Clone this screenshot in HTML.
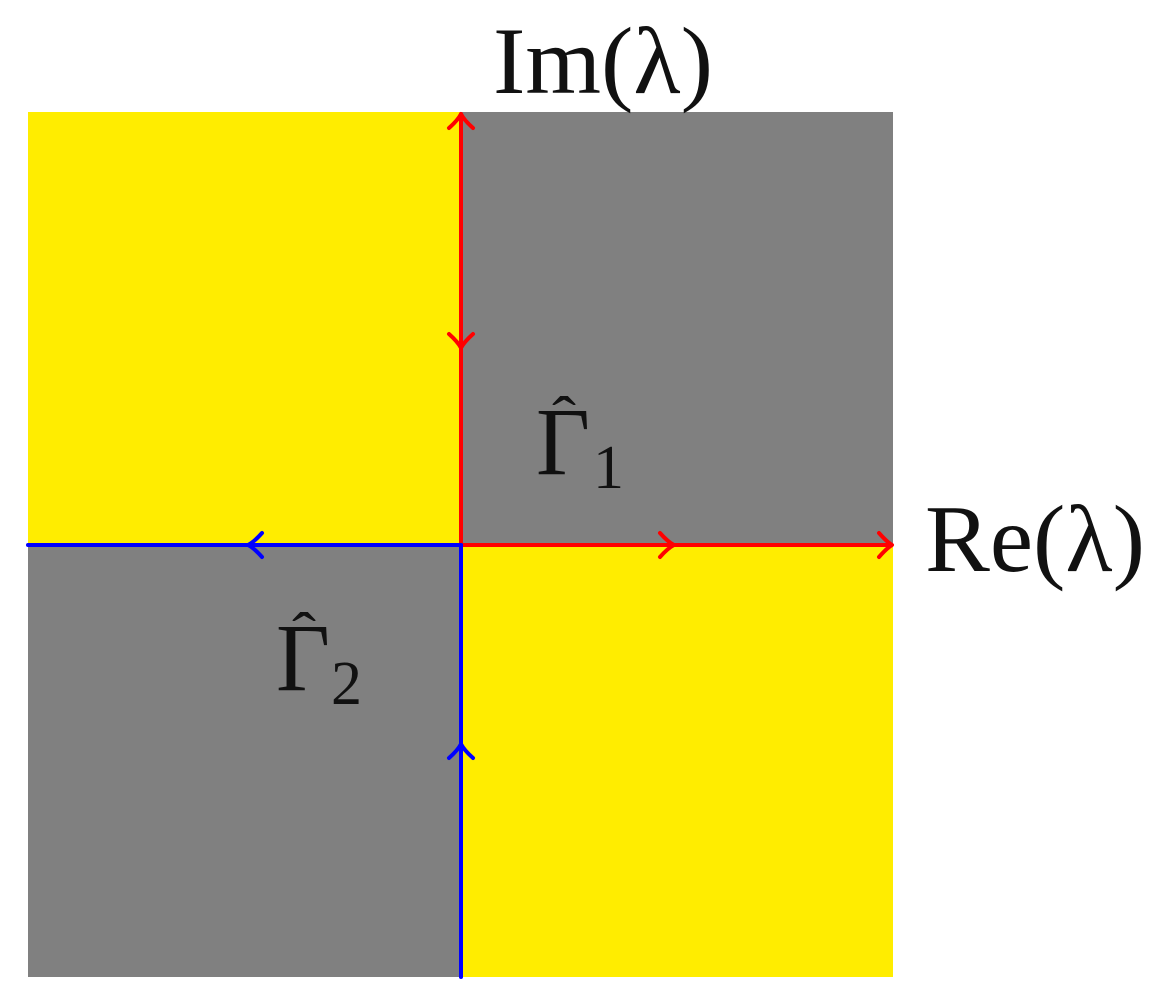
<!DOCTYPE html>
<html><head><meta charset="utf-8"><style>
html,body{margin:0;padding:0;background:#fff;}
svg{display:block}
text{font-family:"Liberation Serif","DejaVu Serif",serif;fill:#111;}
</style></head><body>
<svg width="1170" height="1008" viewBox="0 0 1170 1008">
<rect x="28" y="112" width="433" height="433" fill="#ffed00"/>
<rect x="461" y="112" width="432" height="433" fill="#808080"/>
<rect x="28" y="545" width="433" height="432" fill="#808080"/>
<rect x="461" y="545" width="432" height="432" fill="#ffed00"/>
<g fill="none" stroke-width="4" stroke-linecap="round" stroke-linejoin="round">
<line x1="461" y1="545" x2="461" y2="114" stroke="#ff0000"/>
<line x1="461" y1="545" x2="891" y2="545" stroke="#ff0000"/>
<line x1="28" y1="545" x2="461" y2="545" stroke="#0000ff"/>
<line x1="461" y1="545" x2="461" y2="977" stroke="#0000ff"/>
<path d="M449,128 Q458,120 461,114 Q464,120 473,128" stroke="#ff0000"/>
<path d="M449,334 Q458,342 461,348 Q464,342 473,334" stroke="#ff0000"/>
<path d="M660,533 Q668,542 674,545 Q668,548 660,557" stroke="#ff0000"/>
<path d="M879,533 Q887,542 892,545 Q887,548 879,557" stroke="#ff0000"/>
<path d="M262,533 Q254,542 248,545 Q254,548 262,557" stroke="#0000ff"/>
<path d="M449,758 Q458,750 461,744 Q464,750 473,758" stroke="#0000ff"/>
</g>
<text x="493" y="93" font-size="95" textLength="220" lengthAdjust="spacingAndGlyphs">Im(λ)</text>
<text x="925" y="571" font-size="95" textLength="220" lengthAdjust="spacingAndGlyphs">Re(λ)</text>
<text x="536" y="474" font-size="96" textLength="54" lengthAdjust="spacingAndGlyphs">Γ</text>
<text x="552" y="438" font-size="60" textLength="24" lengthAdjust="spacingAndGlyphs">ˆ</text>
<text x="593" y="488" font-size="62">1</text>
<text x="276" y="690" font-size="96" textLength="54" lengthAdjust="spacingAndGlyphs">Γ</text>
<text x="292" y="654" font-size="60" textLength="24" lengthAdjust="spacingAndGlyphs">ˆ</text>
<text x="331" y="704" font-size="62">2</text>
</svg>
</body></html>
